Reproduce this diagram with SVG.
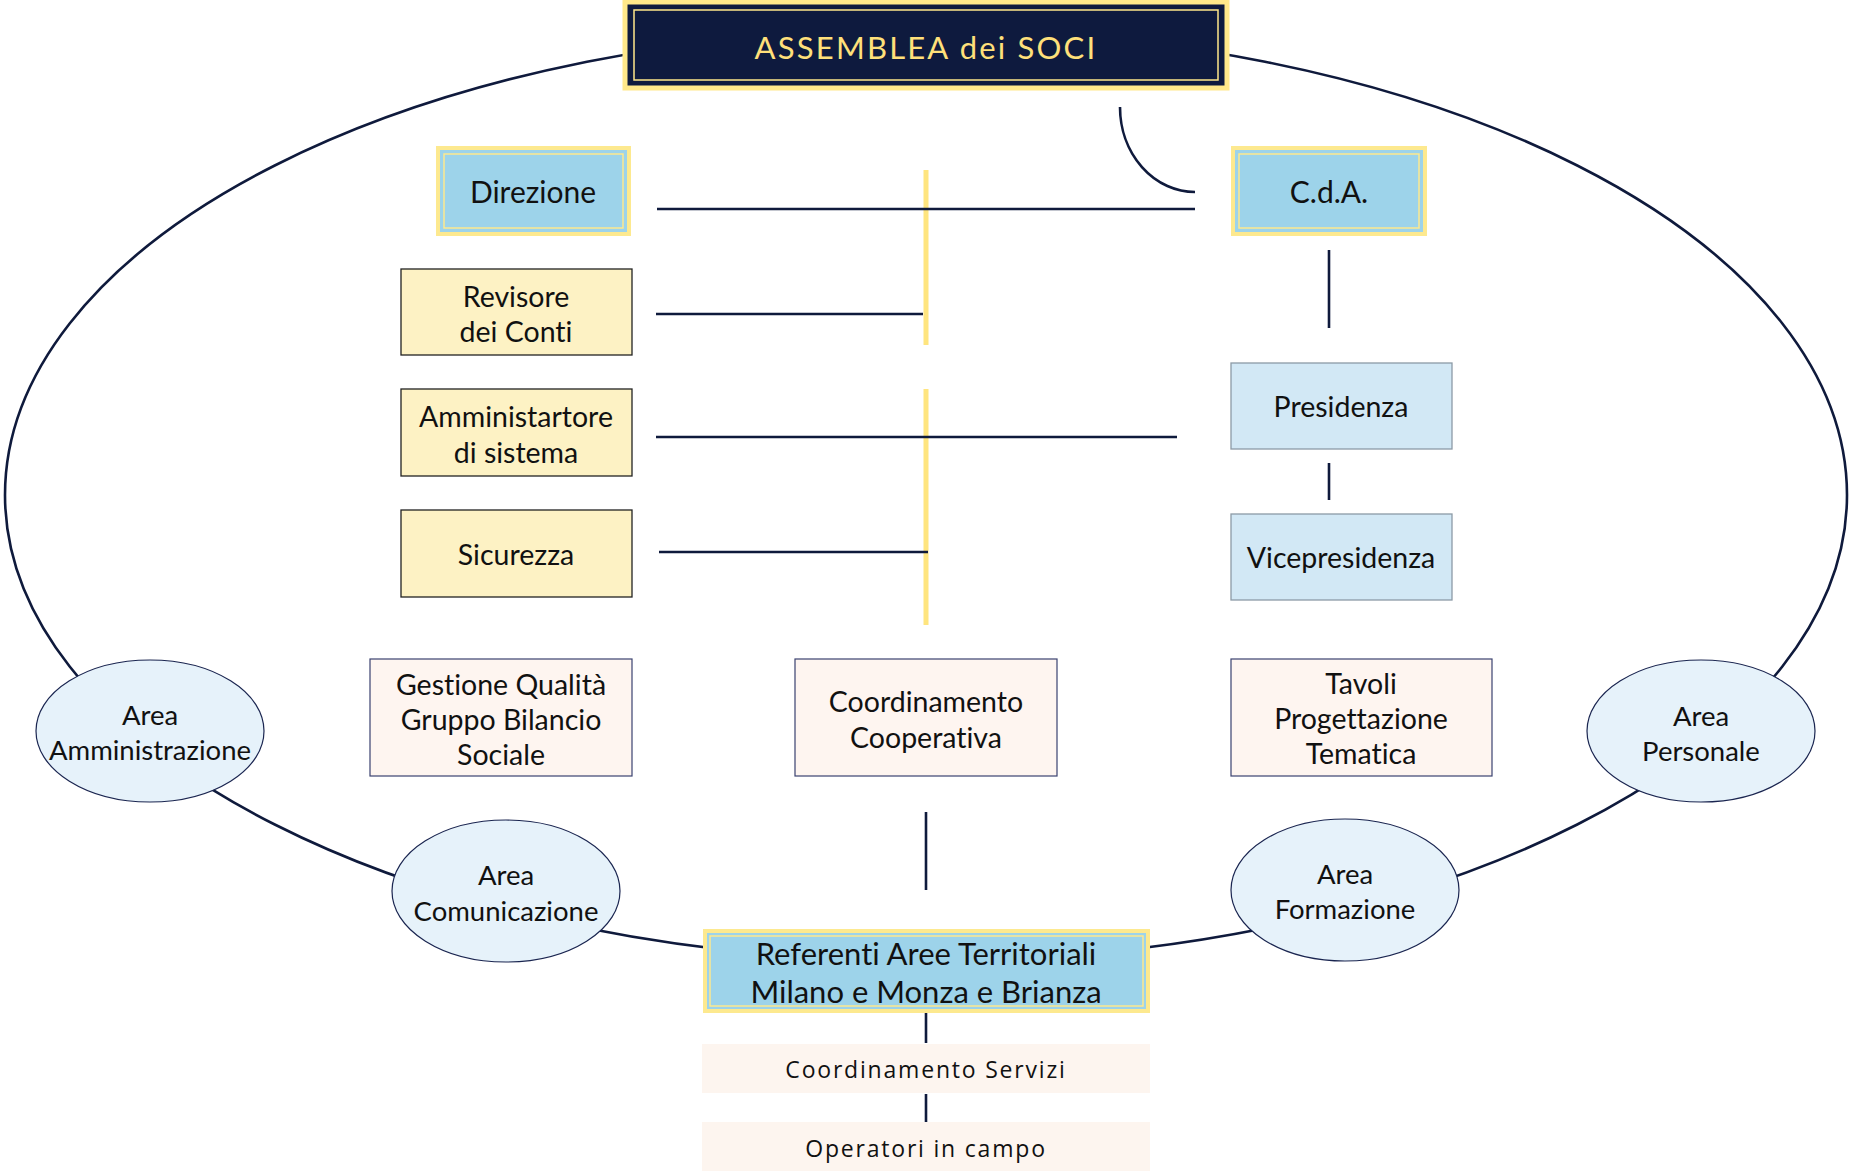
<svg xmlns="http://www.w3.org/2000/svg" width="1849" height="1171" viewBox="0 0 1849 1171">
<style>
text{font-family:Lato,"Open Sans","Liberation Sans",sans-serif;fill:#111;text-anchor:middle;dominant-baseline:central;font-variant-ligatures:none;font-feature-settings:"liga" 0}
.t{font-size:28.5px}
.a{font-size:27.5px}
.big{font-size:31px}
.sp{font-size:23px;letter-spacing:1.8px;font-family:"Open Sans",sans-serif}
.ln{stroke:#0f1a3c;stroke-width:2.6;fill:none}
.yl{stroke:#FFE57F;stroke-width:5;fill:none}
.blue{fill:#9DD3EA;stroke:#FDE98F;stroke-width:4}
.bin{fill:none;stroke:#FDE98F;stroke-width:1.5}
.yel{fill:#FDF2C4;stroke:#222;stroke-width:1.3}
.lb{fill:#D2E8F5;stroke:#8c9aa6;stroke-width:1.3}
.pe{fill:#FEF5F0;stroke:#3a4270;stroke-width:1.2}
.pe2{fill:#FDF5EF}
.ar{fill:#E6F2FA;stroke:#1a2550;stroke-width:1.2}
</style>
<rect width="1849" height="1171" fill="#fff"/>
<g id="connectors">
<ellipse class="ln" cx="926" cy="495" rx="921" ry="466"/>
<line class="yl" x1="926" y1="170" x2="926" y2="345"/>
<line class="yl" x1="926" y1="389" x2="926" y2="625"/>
<line class="ln" x1="657" y1="209" x2="1195" y2="209"/>
<line class="ln" x1="656" y1="314" x2="923" y2="314"/>
<line class="ln" x1="656" y1="437" x2="1177" y2="437"/>
<line class="ln" x1="659" y1="552" x2="928" y2="552"/>
<path class="ln" d="M1120,107 A75,85 0 0 0 1195,192"/>
<line class="ln" x1="1329" y1="250" x2="1329" y2="328"/>
<line class="ln" x1="1329" y1="463" x2="1329" y2="500"/>
<line class="ln" x1="926" y1="812" x2="926" y2="890"/>
<line class="ln" x1="926" y1="1013" x2="926" y2="1043"/>
<line class="ln" x1="926" y1="1094" x2="926" y2="1122"/>
</g>
<g id="assemblea">
<rect x="625" y="2" width="602" height="86" fill="#0E1A3E" stroke="#FFE88A" stroke-width="5"/>
<rect x="634" y="10" width="584" height="70" fill="none" stroke="#FFE88A" stroke-width="1.5"/>
<text x="926" y="47" style="font-size:31px;letter-spacing:2.2px;fill:#FFE07A">ASSEMBLEA dei SOCI</text>
</g>
<g id="direzione">
<rect class="blue" x="438" y="148" width="191" height="86"/>
<rect class="bin" x="444" y="154" width="179" height="74"/>
<text class="t" x="533" y="191" style="font-size:30px">Direzione</text>
</g>
<g id="cda">
<rect class="blue" x="1233" y="148" width="192" height="86"/>
<rect class="bin" x="1239" y="154" width="180" height="74"/>
<text class="t" x="1329" y="191" style="font-size:30px">C.d.A.</text>
</g>
<g id="revisore">
<rect class="yel" x="401" y="269" width="231" height="86"/>
<text class="t" x="516" y="296">Revisore</text>
<text class="t" x="516" y="331">dei Conti</text>
</g>
<g id="amministratore">
<rect class="yel" x="401" y="389" width="231" height="87"/>
<text class="t" x="516" y="416">Amministartore</text>
<text class="t" x="516" y="452">di sistema</text>
</g>
<g id="sicurezza">
<rect class="yel" x="401" y="510" width="231" height="87"/>
<text class="t" x="516" y="554">Sicurezza</text>
</g>
<g id="presidenza">
<rect class="lb" x="1231" y="363" width="221" height="86"/>
<text class="t" x="1341" y="406">Presidenza</text>
</g>
<g id="vicepresidenza">
<rect class="lb" x="1231" y="514" width="221" height="86"/>
<text class="t" x="1341" y="557">Vicepresidenza</text>
</g>
<g id="gestione">
<rect class="pe" x="370" y="659" width="262" height="117"/>
<text class="t" x="501" y="684">Gestione Qualità</text>
<text class="t" x="501" y="719">Gruppo Bilancio</text>
<text class="t" x="501" y="754">Sociale</text>
</g>
<g id="coordinamento-cooperativa">
<rect class="pe" x="795" y="659" width="262" height="117"/>
<text class="t" x="926" y="701">Coordinamento</text>
<text class="t" x="926" y="737">Cooperativa</text>
</g>
<g id="tavoli">
<rect class="pe" x="1231" y="659" width="261" height="117"/>
<text class="t" x="1361" y="683">Tavoli</text>
<text class="t" x="1361" y="718">Progettazione</text>
<text class="t" x="1361" y="753">Tematica</text>
</g>
<g id="area-amministrazione">
<ellipse class="ar" cx="150" cy="731" rx="114" ry="71"/>
<text class="a" x="150" y="714">Area</text>
<text class="a" x="150" y="749">Amministrazione</text>
</g>
<g id="area-comunicazione">
<ellipse class="ar" cx="506" cy="891" rx="114" ry="71"/>
<text class="a" x="506" y="874">Area</text>
<text class="a" x="506" y="910">Comunicazione</text>
</g>
<g id="area-formazione">
<ellipse class="ar" cx="1345" cy="890" rx="114" ry="71"/>
<text class="a" x="1345" y="873">Area</text>
<text class="a" x="1345" y="908">Formazione</text>
</g>
<g id="area-personale">
<ellipse class="ar" cx="1701" cy="731" rx="114" ry="71"/>
<text class="a" x="1701" y="715">Area</text>
<text class="a" x="1701" y="750">Personale</text>
</g>
<g id="referenti">
<rect class="blue" x="705" y="931" width="443" height="80"/>
<rect class="bin" x="710" y="936" width="433" height="70"/>
<text class="big" x="926" y="953">Referenti Aree Territoriali</text>
<text class="big" x="926" y="991">Milano e Monza e Brianza</text>
</g>
<g id="coordinamento-servizi">
<rect class="pe2" x="702" y="1044" width="448" height="49"/>
<text class="sp" x="926" y="1069">Coordinamento Servizi</text>
</g>
<g id="operatori">
<rect class="pe2" x="702" y="1122" width="448" height="49"/>
<text class="sp" x="926" y="1148">Operatori in campo</text>
</g>
</svg>
